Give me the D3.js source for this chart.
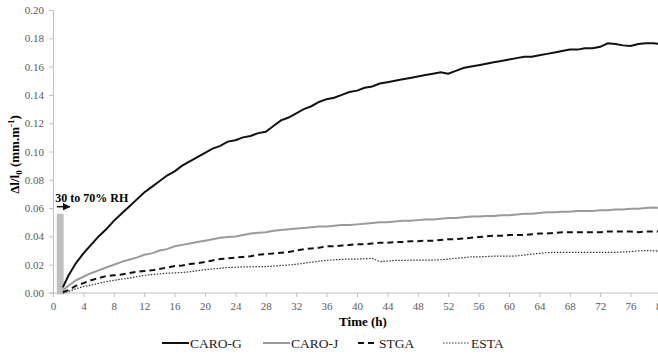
<!DOCTYPE html>
<html>
<head>
<meta charset="utf-8">
<script src="https://cdn.jsdelivr.net/npm/d3@7"></script>
<style>
    body { margin: 0; background: #fff; }
    svg { display: block; font-family: "Liberation Serif", "Times New Roman", serif; }
    .tick text { fill: #595959; font-size: 11px; font-family: "Liberation Serif", "Times New Roman", serif; }
    .tick line, .domain { stroke: #bfbfbf; }
</style>
</head>
<body>
<div id="chart"></div>
<script>
// hours since start (first sample after humidity step)
const hours = [1.3].concat(d3.range(2, 81));

const caroG = [0.004, 0.012, 0.021, 0.028, 0.034, 0.040, 0.045, 0.051, 0.056, 0.061,
    0.066, 0.071, 0.075, 0.079, 0.083, 0.086, 0.090, 0.093, 0.096, 0.099,
    0.102, 0.104, 0.107, 0.108, 0.110, 0.111, 0.113, 0.114, 0.118, 0.122,
    0.124, 0.127, 0.130, 0.132, 0.135, 0.137, 0.138, 0.140, 0.142, 0.143,
    0.145, 0.146, 0.148, 0.149, 0.150, 0.151, 0.152, 0.153, 0.154, 0.155,
    0.156, 0.155, 0.157, 0.159, 0.160, 0.161, 0.162, 0.163, 0.164, 0.165,
    0.166, 0.167, 0.167, 0.168, 0.169, 0.170, 0.171, 0.172, 0.172, 0.173,
    0.173, 0.174, 0.1765, 0.176, 0.175, 0.1745, 0.176, 0.1765, 0.1765, 0.176];

const caroJ = [0.002, 0.005, 0.009, 0.0115, 0.014, 0.016, 0.018, 0.020, 0.022, 0.0235,
    0.025, 0.027, 0.028, 0.030, 0.031, 0.033, 0.034, 0.035, 0.036, 0.037,
    0.038, 0.039, 0.0395, 0.040, 0.041, 0.042, 0.0425, 0.043, 0.044, 0.0445,
    0.045, 0.0455, 0.046, 0.0465, 0.047, 0.047, 0.0475, 0.048, 0.048, 0.0485,
    0.049, 0.0495, 0.050, 0.050, 0.0505, 0.051, 0.051, 0.0515, 0.052, 0.052,
    0.0525, 0.053, 0.053, 0.0535, 0.054, 0.054, 0.0545, 0.0545, 0.055, 0.055,
    0.0555, 0.056, 0.056, 0.0565, 0.057, 0.057, 0.0575, 0.0575, 0.058, 0.058,
    0.058, 0.0585, 0.0585, 0.059, 0.059, 0.0595, 0.0595, 0.060, 0.0605, 0.060];

const stga = [0.0005, 0.002, 0.005, 0.007, 0.009, 0.0105, 0.012, 0.0125, 0.013, 0.014,
    0.015, 0.0155, 0.016, 0.017, 0.018, 0.019, 0.0195, 0.0205, 0.021, 0.022,
    0.023, 0.024, 0.0245, 0.025, 0.0255, 0.026, 0.027, 0.0275, 0.028, 0.0285,
    0.029, 0.030, 0.031, 0.0315, 0.032, 0.033, 0.033, 0.0335, 0.034, 0.0345,
    0.0345, 0.035, 0.0355, 0.0355, 0.036, 0.036, 0.0365, 0.0365, 0.037, 0.037,
    0.0375, 0.038, 0.038, 0.0385, 0.039, 0.0395, 0.040, 0.0405, 0.0405, 0.041,
    0.041, 0.041, 0.0415, 0.042, 0.042, 0.0425, 0.043, 0.043, 0.043, 0.043,
    0.043, 0.043, 0.0435, 0.0435, 0.0435, 0.0435, 0.043, 0.0435, 0.0435, 0.0435];

const esta = [0.000, 0.001, 0.003, 0.0045, 0.0055, 0.0068, 0.008, 0.009, 0.0098, 0.0105,
    0.0115, 0.0125, 0.013, 0.0135, 0.014, 0.0142, 0.0145, 0.015, 0.0158, 0.0165,
    0.017, 0.0174, 0.018, 0.0182, 0.0185, 0.0185, 0.0187, 0.0187, 0.019, 0.0195,
    0.0198, 0.0203, 0.021, 0.0218, 0.0225, 0.023, 0.0235, 0.0238, 0.024, 0.024,
    0.0242, 0.0245, 0.0222, 0.0225, 0.023, 0.023, 0.0232, 0.0233, 0.0233, 0.0233,
    0.0235, 0.024, 0.0245, 0.025, 0.0255, 0.0255, 0.0258, 0.026, 0.026, 0.026,
    0.0262, 0.0268, 0.0275, 0.028, 0.0285, 0.0287, 0.0287, 0.0287, 0.0287, 0.0287,
    0.0287, 0.0287, 0.0287, 0.0287, 0.029, 0.0293, 0.0298, 0.030, 0.0298, 0.0295];

const seriesNames = ["CARO-G", "CARO-J", "STGA", "ESTA"];
const xTicks = d3.range(0, 81, 4);
const yTicks = d3.range(0, 0.201, 0.02);

// humidity step marker: time span and height of the grey bar
const stepStart = 0.5, stepEnd = 1.4, stepTop = 0.056, stepBottom = -0.001;
const arrowFrom = 0.5, arrowTo = 2.2, arrowLevel = 0.061;
const stepLabel = "30 to 70% RH";

const styles = {
    "CARO-G": { color: "#111", width: 2, dash: null },
    "CARO-J": { color: "#9a9a9a", width: 2, dash: null },
    "STGA": { color: "#111", width: 2, dash: "6,4" },
    "ESTA": { color: "#333", width: 1.2, dash: "1.5,1.5" }
};

const width = 658, height = 356;
const margin = { top: 10, left: 53, bottom: 63 };
const serif = "'Liberation Serif', 'Times New Roman', serif";

const svg = d3.select("#chart").append("svg")
    .attr("width", width)
    .attr("height", height);

const x = d3.scaleLinear().domain([0, 80]).range([margin.left, 661]);
const y = d3.scaleLinear().domain([0, 0.2]).range([height - margin.bottom, margin.top]);

svg.append("g")
    .attr("transform", "translate(0," + y(0) + ")")
    .call(d3.axisBottom(x).tickValues(xTicks).tickSize(4).tickSizeOuter(0).tickPadding(5))
    .attr("font-family", serif)
    .call(g => g.select(".domain").attr("d", "M" + (margin.left - 4) + ",0H661"));

svg.append("g")
    .attr("transform", "translate(" + margin.left + ",0)")
    .call(d3.axisLeft(y).tickValues(yTicks).tickFormat(d3.format(".2f")).tickSize(4).tickSizeOuter(0).tickPadding(5))
    .attr("font-family", serif);

svg.append("text")
    .attr("x", 363)
    .attr("y", 326)
    .attr("text-anchor", "middle")
    .attr("font-weight", "bold")
    .attr("font-size", "13px")
    .text("Time (h)");

const yTitle = svg.append("text")
    .attr("transform", "translate(19," + ((y(0) + y(0.2)) / 2 + 3) + ") rotate(-90)")
    .attr("text-anchor", "middle")
    .attr("font-weight", "bold")
    .attr("font-size", "13px");
yTitle.append("tspan").text("\u0394l/l");
yTitle.append("tspan").attr("dy", 3).attr("font-size", "9px").text("0");
yTitle.append("tspan").attr("dy", -3).text(" (mm.m");
yTitle.append("tspan").attr("dy", -5).attr("font-size", "9px").text("-1");
yTitle.append("tspan").attr("dy", 5).text(")");

// humidity step
svg.append("rect")
    .attr("x", x(stepStart))
    .attr("y", y(stepTop))
    .attr("width", x(stepEnd) - x(stepStart))
    .attr("height", y(stepBottom) - y(stepTop))
    .attr("fill", "#bfbfbf");

svg.append("defs").append("marker")
    .attr("id", "arrow")
    .attr("viewBox", "0 0 10 10")
    .attr("refX", 9).attr("refY", 5)
    .attr("markerWidth", 5).attr("markerHeight", 5)
    .attr("orient", "auto")
    .append("path")
    .attr("d", "M0,0L10,5L0,10z")
    .attr("fill", "#111");

svg.append("line")
    .attr("x1", x(arrowFrom)).attr("x2", x(arrowTo))
    .attr("y1", y(arrowLevel)).attr("y2", y(arrowLevel))
    .attr("stroke", "#111")
    .attr("stroke-width", 1.5)
    .attr("marker-end", "url(#arrow)");

svg.append("text")
    .attr("x", x(0.3))
    .attr("y", y(arrowLevel) - 5)
    .attr("font-weight", "bold")
    .attr("font-size", "12px")
    .text(stepLabel);

const seriesValues = [caroG, caroJ, stga, esta];
const line = d3.line()
    .x(d => x(d[0]))
    .y(d => y(d[1]));

seriesNames.forEach((name, i) => {
    const pts = hours.map((h, j) => [h, seriesValues[i][j]]);
    svg.append("path")
        .datum(pts)
        .attr("fill", "none")
        .attr("stroke", styles[name].color)
        .attr("stroke-width", styles[name].width)
        .attr("stroke-dasharray", styles[name].dash)
        .attr("d", line);
});

// legend
const legendX = [162, 263, 358, 443];
const legend = svg.append("g").attr("transform", "translate(0,343)");
seriesNames.forEach((name, i) => {
    const g = legend.append("g").attr("transform", "translate(" + legendX[i] + ",0)");
    g.append("line")
        .attr("x1", 0).attr("x2", name === "STGA" ? 20 : 27)
        .attr("y1", 0).attr("y2", 0)
        .attr("stroke", styles[name].color)
        .attr("stroke-width", styles[name].width)
        .attr("stroke-dasharray", styles[name].dash);
    g.append("text")
        .attr("x", name === "STGA" ? 21 : 28)
        .attr("y", 5)
        .attr("font-size", "13.5px")
        .attr("fill", "#222")
        .text(name);
});
</script>
</body>
</html>
